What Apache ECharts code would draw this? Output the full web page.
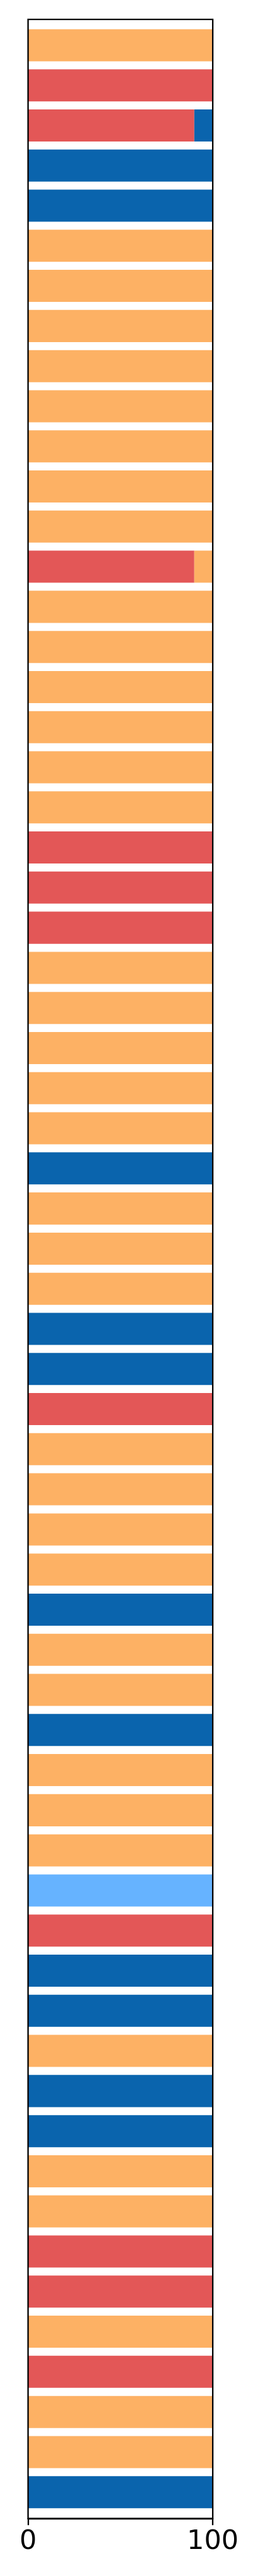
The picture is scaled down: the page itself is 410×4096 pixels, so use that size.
<!DOCTYPE html>
<html>
<head>
<meta charset="utf-8">
<script src="https://cdn.jsdelivr.net/npm/echarts@6/dist/echarts.min.js"></script>
<style>
html,body{margin:0;padding:0;background:#fff;}
#c{width:410px;height:4096px;}
</style>
</head>
<body>
<div id="c"></div>
<script>
// Rows listed top to bottom (62 rows), each row sums to 100
const rowLabels = Array.from({length: 62}, (_, i) => String(i + 1));

const redValues = [
  0,100,90,0,0,0,0,0,0,0,
  0,0,0,90,0,0,0,0,0,0,
  100,100,100,0,0,0,0,0,0,0,
  0,0,0,0,100,0,0,0,0,0,
  0,0,0,0,0,0,0,100,0,0,
  0,0,0,0,0,100,100,0,100,0,
  0,0
];
const blueValues = [
  0,0,10,100,100,0,0,0,0,0,
  0,0,0,0,0,0,0,0,0,0,
  0,0,0,0,0,0,0,0,100,0,
  0,0,100,100,0,0,0,0,0,100,
  0,0,100,0,0,0,0,0,100,100,
  0,100,100,0,0,0,0,0,0,0,
  0,100
];
const orangeValues = [
  100,0,0,0,0,100,100,100,100,100,
  100,100,100,10,100,100,100,100,100,100,
  0,0,0,100,100,100,100,100,0,100,
  100,100,0,0,0,100,100,100,100,0,
  100,100,0,100,100,100,0,0,0,0,
  100,0,0,100,100,0,0,100,0,100,
  100,0
];
const lightBlueValues = [
  0,0,0,0,0,0,0,0,0,0,
  0,0,0,0,0,0,0,0,0,0,
  0,0,0,0,0,0,0,0,0,0,
  0,0,0,0,0,0,0,0,0,0,
  0,0,0,0,0,0,100,0,0,0,
  0,0,0,0,0,0,0,0,0,0,
  0,0
];
const xTicks = [0, 100];

const seriesDefs = [
  {name: 'red', data: redValues, color: '#e35757'},
  {name: 'blue', data: blueValues, color: '#0a64ad'},
  {name: 'orange', data: orangeValues, color: '#fdb164'},
  {name: 'lightblue', data: lightBlueValues, color: '#66b3ff'}
];

const chart = echarts.init(document.getElementById('c'), null, {renderer: 'canvas'});
const option = {
  animation: false,
  backgroundColor: '#ffffff',
  grid: [
    {left: 44.6, right: 71.9, top: 40.0, bottom: 101.4, outerBoundsMode: 'none', containLabel: false},
    {left: 44.6, right: 71.9, top: 30.9, bottom: 91.3, outerBoundsMode: 'none', containLabel: false,
     show: true, borderColor: '#000', borderWidth: 2.3, backgroundColor: 'transparent', z: 10}
  ],
  xAxis: [
    {gridIndex: 0, type: 'value', min: xTicks[0], max: xTicks[1], show: false},
    {gridIndex: 1, type: 'value', min: xTicks[0], max: xTicks[1], interval: xTicks[1] - xTicks[0], z: 10,
     axisLine: {show: true, lineStyle: {color: '#000', width: 2.3}},
     axisTick: {show: true, length: 10.5, lineStyle: {color: '#000', width: 2.3}},
     axisLabel: {show: true, fontSize: 43, color: '#000', fontFamily: 'DejaVu Sans', margin: 15.3},
     splitLine: {show: false}}
  ],
  yAxis: [
    {gridIndex: 0, type: 'category', data: rowLabels, inverse: true, show: false},
    {gridIndex: 1, type: 'value', min: 0, max: 1, show: false}
  ],
  series: seriesDefs.map(s => ({
    name: s.name,
    type: 'bar',
    stack: 'total',
    xAxisIndex: 0,
    yAxisIndex: 0,
    barWidth: '80%',
    itemStyle: {color: s.color},
    data: s.data
  }))
};
chart.setOption(option);
</script>
</body>
</html>
